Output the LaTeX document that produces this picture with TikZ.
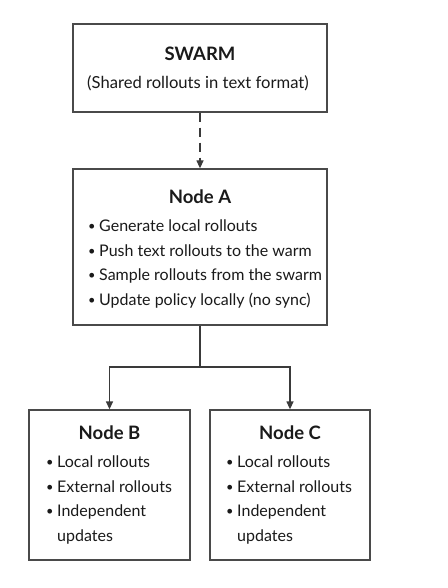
\documentclass[tikz,border=0pt]{standalone}
\usepackage{fontspec}
\usepackage{graphicx}
\setmainfont{Lato}
\usetikzlibrary{arrows.meta}
\definecolor{boxc}{HTML}{4A4A4A}
\definecolor{linec}{HTML}{3A3A3A}
\definecolor{txt}{HTML}{1A1A1A}
\newcommand{\bul}{\makebox[11pt][l]{\raisebox{0.12ex}{\scalebox{0.8}{\textbullet}}}}
\begin{document}
\begin{tikzpicture}[x=1pt,y=-1pt,
  box/.style={draw=boxc, line width=1.3pt, fill=white, inner sep=0pt},
  titletext/.style={font=\fontsize{18.5}{21}\selectfont\bfseries, text=txt, inner sep=0pt},
  bodytext/.style={font=\fontsize{16}{24.7}\selectfont, text=txt, align=left, inner sep=0pt},
  conn/.style={draw=linec, line width=1.3pt},
  tipend/.style={-{Triangle[length=8pt,width=7pt]}}]
\useasboundingbox (0,0) rectangle (447,588);
% boxes
\node[box, minimum width=254pt, minimum height=88pt] (swarm) at (200,68) {};
\node[box, minimum width=254pt, minimum height=156pt] (A) at (200,247) {};
\node[box, minimum width=161pt, minimum height=150pt] (B) at (109.5,485) {};
\node[box, minimum width=160pt, minimum height=150pt] (C) at (290,485) {};
% texts
\node[titletext] (swarmtitle) at (200,54) {SWARM};
\node[bodytext, font=\fontsize{16.6}{20}\selectfont] (swarmsub) at (198,83) {(Shared rollouts in text format)};
\node[titletext] (Atitle) at (200,197) {Node A};
\node[bodytext, anchor=west] (Alist) at (88,264) {\bul Generate local rollouts\\
\bul Push text rollouts to the warm\\
\bul Sample rollouts from the swarm\\
\bul Update policy locally (no sync)};
\node[titletext] (Btitle) at (109.5,433) {Node B};
\node[bodytext, anchor=west] (Blist) at (46,500) {\bul Local rollouts\\
\bul External rollouts\\
\bul Independent\\
\hspace*{11pt}updates};
\node[titletext] (Ctitle) at (290,433) {Node C};
\node[bodytext, anchor=west] (Clist) at (226,500) {\bul Local rollouts\\
\bul External rollouts\\
\bul Independent\\
\hspace*{11pt}updates};
% connectors
\draw[conn, tipend, dash pattern=on 9pt off 6pt] (swarm.south) -- (A.north);
\coordinate (split) at (200,367);
\draw[conn] (A.south) -- (split);
\draw[conn, tipend] (split) -| (B.north);
\draw[conn, tipend] (split) -| (C.north);
\end{tikzpicture}
\end{document}
